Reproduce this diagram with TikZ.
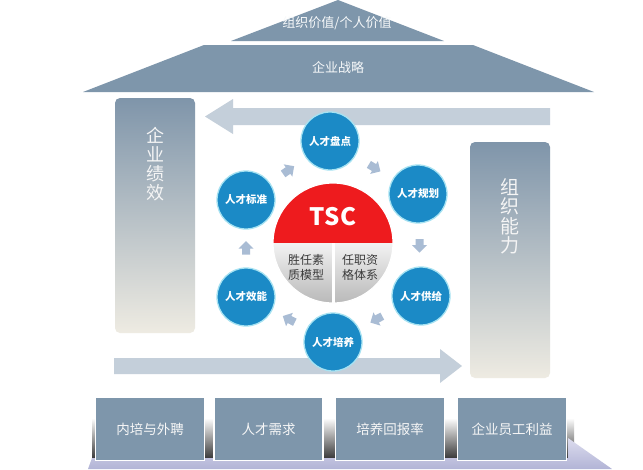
\documentclass[tikz,border=0pt]{standalone}
\usepackage{fontspec}
\setmainfont{Noto Sans CJK SC}
\usetikzlibrary{calc}
\definecolor{roof}{HTML}{7E96AB}
\definecolor{bluec}{HTML}{1B8AC6}
\definecolor{ringc}{HTML}{A6E2F2}
\definecolor{bigarr}{HTML}{C4CFDA}
\definecolor{smallarr}{HTML}{A9BCD4}
\definecolor{tscred}{HTML}{EE1B1E}
\definecolor{boxtop}{HTML}{7F95AA}
\definecolor{boxmid}{HTML}{D2D4D2}
\definecolor{boxbot}{HTML}{EEEBE2}
\definecolor{lavtop}{HTML}{DCDCEE}
\definecolor{lavbot}{HTML}{B2B4D6}
\definecolor{greytxt}{HTML}{3A3A3A}
\tikzset{
  talent/.style={circle, fill=bluec, draw=ringc, line width=1.3pt, minimum size=58pt,
    inner sep=0pt, text=white, font=\bfseries\fontsize{10.5}{12}\selectfont},
  basebox/.style={rectangle, fill=roof, draw=white, line width=1.5pt, minimum width=109pt,
    minimum height=63pt, inner sep=0pt, text=white!94!gray, font=\fontsize{13.5}{15}\selectfont},
  rooftext/.style={text=white!94!roof, font=\fontsize{13}{15}\selectfont},
  vlabel/.style={text=white!92!gray, align=center, anchor=north, font=\fontsize{18}{19}\selectfont},
  quadtext/.style={text=greytxt, align=center, font=\fontsize{12}{15}\selectfont},
  pics/sarr/.style={code={\fill[smallarr] (-6,-4) -- (0,-4) -- (0,-7.5) -- (7.5,0) -- (0,7.5) -- (0,4) -- (-6,4) -- cycle;}}
}
\begin{document}
\begin{tikzpicture}[x=1pt,y=-1pt]
\useasboundingbox (0,0) rectangle (643,469);
\fill[white] (0,0) rectangle (643,469);
% floor shadow and reflection
\shade[top color=white, bottom color=black!85] (92,418) rectangle (574,462);
\shade[top color=lavtop, bottom color=lavbot] (88,469) -- (92,458) -- (568,458) -- (568,438) -- (612,469) -- cycle;
% roof
\fill[roof] (338,0) -- (444,41) -- (231,41) -- cycle;
\node[rooftext] (val) at (337,23) {组织价值/个人价值};
\fill[roof] (204,45) -- (473,45) -- (594,92) -- (83,92) -- cycle;
\node[rooftext] (strat) at (338,68) {企业战略};
% side boxes
\shade[rounded corners=5pt, top color=boxtop, middle color=boxmid, bottom color=boxbot] (115,98) rectangle (195,333);
\node[vlabel] (perf) at (155,124) {企\\业\\绩\\效};
\shade[rounded corners=5pt, top color=boxtop, middle color=boxmid, bottom color=boxbot] (470,142) rectangle (550,378);
\node[vlabel, font=\fontsize{19}{19.5}\selectfont] (cap) at (510,175) {组\\织\\能\\力};
% big arrows
\coordinate (ta) at (550,116.5);
\coordinate (tt) at (205,116.5);
\fill[bigarr] (ta) ++(0,-8.5) -- (233,108) -- (233,99) -- (tt) -- (233,134) -- (233,125) -- ($(ta)+(0,8.5)$) -- cycle;
\coordinate (ba) at (114,366);
\coordinate (bt) at (462,366);
\fill[bigarr] (ba) ++(0,-8) -- (440,358) -- (440,349) -- (bt) -- (440,383) -- (440,374) -- ($(ba)+(0,8)$) -- cycle;
% base boxes
\node[basebox] (b1) at (150,429) {内培与外聘};
\node[basebox] (b2) at (268.5,429) {人才需求};
\node[basebox] (b3) at (390,429) {培养回报率};
\node[basebox] (b4) at (512,429) {企业员工利益};
% TSC circle
\coordinate (c) at (333,243);
\fill[tscred] ($(c)+(-60,0)$) arc[start angle=180, end angle=360, radius=60] -- cycle;
\shade[top color=white!90!gray, bottom color=gray!55] (c) -- ($(c)+(-60,0)$) arc[start angle=180, end angle=90, radius=60] -- cycle;
\shade[top color=white!90!gray, bottom color=gray!55] (c) -- ($(c)+(0,60)$) arc[start angle=90, end angle=0, radius=60] -- cycle;
\draw[white, line width=3pt] (c) -- ($(c)+(0,60)$);
\draw[white, line width=1.2pt] (c) circle[radius=60];
\node[text=white, font=\bfseries\fontsize{24}{26}\selectfont] (tsc) at (333,217) {TSC};
\node[quadtext] (q1) at (306,267) {胜任素\\质模型};
\node[quadtext] (q2) at (360,267) {任职资\\格体系};
% talent circles
\node[talent] (pd) at (330,141) {人才盘点};
\node[talent] (gh) at (418,194) {人才规划};
\node[talent] (gj) at (421,296) {人才供给};
\node[talent] (py) at (333,342) {人才培养};
\node[talent] (xn) at (246,297) {人才效能};
\node[talent] (bz) at (246,200) {人才标准};
% small cycle arrows
\pic[rotate=35] at ($(bz)!0.5!(pd)$) {sarr};
\pic[rotate=-31] at ($(pd)!0.5!(gh)$) {sarr};
\pic[rotate=-90] at ($(gh)!0.5!(gj)$) {sarr};
\pic[rotate=208] at ($(gj)!0.5!(py)$) {sarr};
\pic[rotate=153] at ($(py)!0.5!(xn)$) {sarr};
\pic[rotate=90] at ($(xn)!0.5!(bz)$) {sarr};
\end{tikzpicture}
\end{document}
